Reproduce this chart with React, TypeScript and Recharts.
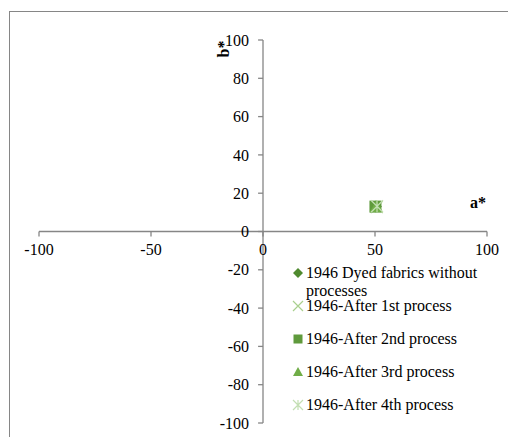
import React from 'react';
import { ScatterChart, Scatter, XAxis, YAxis, ReferenceLine, Legend } from 'recharts';

const SERIES_NAMES = [
  '1946 Dyed fabrics without processes',
  '1946-After 1st process',
  '1946-After 2nd process',
  '1946-After 3rd process',
  '1946-After 4th process',
];
const A_VALUES = [50.4, 50.8, 50.2, 50.6, 50.9];
const B_VALUES = [13.1, 12.8, 13.0, 12.9, 13.2];
const SHAPES = ['diamond', 'x', 'square', 'triangle', 'star'];
const COLORS = ['#4f8a2f', '#a9d08e', '#5f9a3c', '#70ad47', '#c3dfb3'];

const X_TICKS = [-100, -50, 0, 50, 100];
const Y_TICKS = [-100, -80, -60, -40, -20, 0, 20, 40, 60, 80, 100];

const FONT = '"Liberation Serif", "Times New Roman", serif';
const AXIS = '#868686';
// tick length expressed in data units (about 5px each way)
const X_TICK_LEN = 2.6;
const Y_TICK_LEN = 2.2;

function marker(kind: string, color: string, cx: number, cy: number, r: number) {
  switch (kind) {
    case 'diamond':
      return <path d={`M${cx},${cy - r}L${cx + r},${cy}L${cx},${cy + r}L${cx - r},${cy}Z`} fill={color} />;
    case 'square':
      return <rect x={cx - r} y={cy - r} width={2 * r} height={2 * r} fill={color} />;
    case 'triangle':
      return <path d={`M${cx},${cy - r}L${cx + r},${cy + r * 0.8}L${cx - r},${cy + r * 0.8}Z`} fill={color} />;
    case 'x':
      return (
        <path d={`M${cx - r},${cy - r}L${cx + r},${cy + r}M${cx + r},${cy - r}L${cx - r},${cy + r}`} stroke={color} strokeWidth={1.2} fill="none" />
      );
    default:
      return (
        <path
          d={`M${cx - r},${cy - r}L${cx + r},${cy + r}M${cx + r},${cy - r}L${cx - r},${cy + r}M${cx},${cy - r}L${cx},${cy + r}`}
          stroke={color}
          strokeWidth={1.2}
          fill="none"
        />
      );
  }
}

function LegendBox() {
  return (
    <div style={{ fontFamily: FONT, fontSize: 16, color: '#000' }}>
      {SERIES_NAMES.map((name, i) => (
        <div key={name} style={{ display: 'flex', alignItems: 'flex-start', height: 33 }}>
          <svg width={14} height={18} style={{ flex: 'none' }}>
            {marker(SHAPES[i], COLORS[i], 6, 9, SHAPES[i] === 'square' ? 4.5 : 5)}
          </svg>
          <div style={{ width: 180, lineHeight: '18px', whiteSpace: 'normal' }}>{name}</div>
        </div>
      ))}
    </div>
  );
}

export default function App() {
  const tickLabel = { fill: '#000', fontSize: 16, fontFamily: FONT, style: { fontFamily: FONT } };
  return (
    <div style={{ position: 'absolute', left: 0, top: 0, width: 508, height: 437, overflow: 'hidden', background: '#fff' }}>
      <div style={{ position: 'absolute', left: 9, top: 11, width: 600, height: 600, border: `1px solid ${AXIS}` }} />
      <ScatterChart width={508} height={437} margin={{ top: 40, right: 21, bottom: 14, left: 39 }} style={{ fontFamily: FONT }}>
        <XAxis type="number" dataKey="a" domain={[-100, 100]} ticks={X_TICKS} hide />
        <YAxis type="number" dataKey="b" domain={[-100, 100]} ticks={Y_TICKS} hide />
        <ReferenceLine y={0} stroke={AXIS} strokeWidth={1.3} />
        <ReferenceLine x={0} stroke={AXIS} strokeWidth={1.3} />
        {X_TICKS.map((v) => (
          <ReferenceLine
            key={`x${v}`}
            segment={[{ x: v, y: 0 }, { x: v, y: -X_TICK_LEN }]}
            stroke={AXIS}
            strokeWidth={1.3}
            label={{ value: String(v), position: 'bottom', offset: 7, ...tickLabel }}
          />
        ))}
        {Y_TICKS.map((v) => (
          <ReferenceLine
            key={`y${v}`}
            segment={[{ x: 0, y: v }, { x: -Y_TICK_LEN, y: v }]}
            stroke={AXIS}
            strokeWidth={1.3}
            label={{ value: String(v), position: 'left', offset: 9, ...tickLabel }}
          />
        ))}
        {SERIES_NAMES.map((name, i) => (
          <Scatter
            key={name}
            name={name}
            data={[{ a: A_VALUES[i], b: B_VALUES[i] }]}
            fill={COLORS[i]}
            isAnimationActive={false}
            shape={(p: any) => marker(SHAPES[i], COLORS[i], p.cx, p.cy, SHAPES[i] === 'triangle' ? 6.5 : 6)}
          />
        ))}
        <Legend
          layout="horizontal"
          verticalAlign="middle"
          align="center"
          wrapperStyle={{ left: 292, top: 264, width: 200 }}
          content={() => <LegendBox />}
        />
      </ScatterChart>
      <div style={{ position: 'absolute', left: 470, top: 194, fontFamily: FONT, fontSize: 16, fontWeight: 'bold', lineHeight: '18px' }}>
        a*
      </div>
      <div
        style={{
          position: 'absolute',
          left: 214,
          top: 40,
          width: 20,
          fontFamily: FONT,
          fontSize: 16,
          fontWeight: 'bold',
          lineHeight: '18px',
          textAlign: 'center',
          transform: 'rotate(-90deg)',
        }}
      >
        b*
      </div>
    </div>
  );
}
